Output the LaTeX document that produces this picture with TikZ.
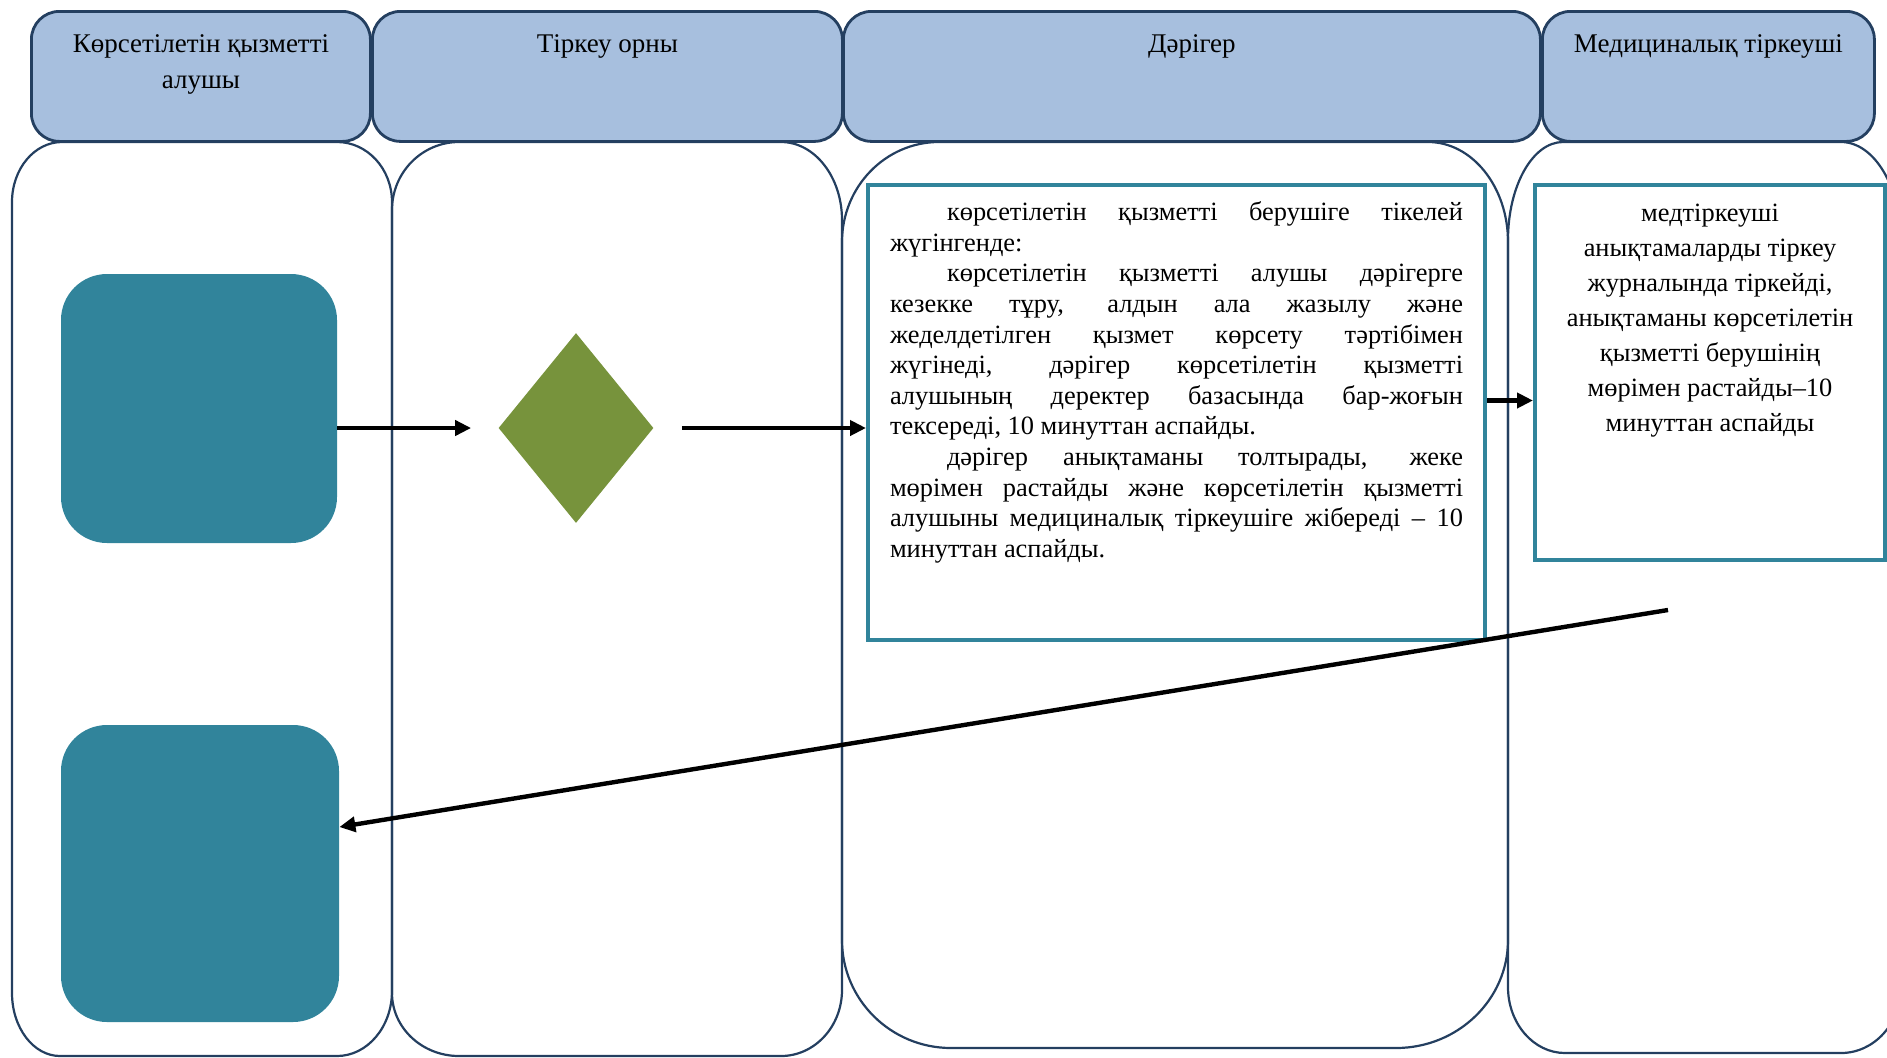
\documentclass[tikz,border=0pt]{standalone}
\usepackage{fontspec}
\setmainfont{Liberation Serif}
\usetikzlibrary{arrows.meta,shapes.geometric}
\definecolor{hdrfill}{HTML}{A7BFDE}
\definecolor{navyc}{HTML}{243F60}
\definecolor{tealc}{HTML}{31849B}
\definecolor{olivec}{HTML}{77933C}
\newcommand\hdrbox[2]{\parbox[c][65pt][t]{#1}{\vspace*{7.9pt}\centering\fontsize{13.5}{18}\selectfont\strut #2}}
\begin{document}
\begin{tikzpicture}[x=0.5pt,y=-0.5pt,
  lane/.style={draw=navyc,line width=1.1pt},
  hdr/.style={draw=navyc,line width=1.4pt,fill=hdrfill,rounded corners=14pt,inner sep=0pt,anchor=north west},
  proc/.style={fill=tealc,rounded corners=23pt,inner sep=0pt},
  dec/.style={diamond,fill=olivec,inner sep=0pt},
  tbox/.style={draw=tealc,line width=2pt,fill=white,inner xsep=11pt,inner ysep=0pt,anchor=north west},
  arr/.style={line width=2.2pt,-{Triangle[length=8pt,width=7.5pt]}}]
\useasboundingbox (0,0) rectangle (1887,1057);
\begin{scope}
\clip (0,0) rectangle (1887,1057);
% swimlanes
\draw[lane] (12,202) arc[start angle=180,end angle=270,x radius=50,y radius=60] -- (337,142)
  arc[start angle=270,end angle=360,x radius=55,y radius=60] -- (392,991)
  arc[start angle=0,end angle=90,x radius=55,y radius=65] -- (60,1056)
  arc[start angle=90,end angle=180,x radius=48,y radius=63] -- cycle;
\draw[lane] (392,210) arc[start angle=180,end angle=270,x radius=67,y radius=68] -- (781,142)
  arc[start angle=270,end angle=360,x radius=61,y radius=78] -- (842,990)
  arc[start angle=0,end angle=90,x radius=61,y radius=66] -- (459,1056)
  arc[start angle=90,end angle=180,x radius=67,y radius=63] -- cycle;
\draw[lane] (842,242) arc[start angle=180,end angle=270,x radius=97,y radius=100] -- (1428,142)
  arc[start angle=270,end angle=360,x radius=80,y radius=100] -- (1508,940)
  arc[start angle=0,end angle=90,x radius=112,y radius=108] -- (951,1048)
  arc[start angle=90,end angle=180,x radius=109,y radius=108] -- cycle;
\draw[lane] (1508,240) arc[start angle=180,end angle=270,x radius=55,y radius=98] -- (1841,142)
  arc[start angle=270,end angle=360,x radius=60,y radius=100] -- (1901,987)
  arc[start angle=0,end angle=90,x radius=60,y radius=66] -- (1565,1053)
  arc[start angle=90,end angle=180,x radius=57,y radius=66] -- cycle;
\end{scope}
% headers
\node[hdr] (h1) at (30,10) {\hdrbox{169.5pt}{Көрсетілетін қызметті\\алушы}};
\node[hdr] (h2) at (371,10) {\hdrbox{235pt}{Тіркеу орны}};
\node[hdr] (h3) at (842,10) {\hdrbox{348.5pt}{Дәрігер}};
\node[hdr] (h4) at (1541,10) {\hdrbox{166pt}{Медициналық тіркеуші}};
% shapes
\node[proc,minimum width=138pt,minimum height=134.5pt] (r1) at (199,408.5) {};
\node[proc,minimum width=139pt,minimum height=148.5pt] (r2) at (200,873.5) {};
\node[dec,minimum width=77.5pt,minimum height=95pt] (d) at (576,428) {};
\node[tbox] (b3) at (866,183) {\parbox[c][227.5pt][t]{286.5pt}{\vspace*{7.1pt}\fontsize{13.2}{15.3}\selectfont\setlength\parindent{28.5pt}\tolerance=10000 \hyphenpenalty=10000 \exhyphenpenalty=10000
\indent\strut көрсетілетін қызметті берушіге тікелей\linebreak жүгінгенде:\par
көрсетілетін қызметті алушы дәрігерге\linebreak кезекке тұру, алдын ала жазылу және\linebreak жеделдетілген қызмет көрсету тәртібімен\linebreak жүгінеді, дәрігер көрсетілетін қызметті\linebreak алушының деректер базасында бар-жоғын\linebreak тексереді, 10 минуттан аспайды.\par
дәрігер анықтаманы толтырады, жеке\linebreak мөрімен растайды және көрсетілетін қызметті\linebreak алушыны медициналық тіркеушіге жібереді – 10\linebreak минуттан аспайды.\par}};
\node[tbox,inner xsep=5pt] (b4) at (1533,183) {\parbox[c][187.5pt][t]{165pt}{\vspace*{5.75pt}\centering\fontsize{13.2}{17.5}\selectfont\strut медтіркеуші\\анықтамаларды тіркеу\\журналында тіркейді,\\анықтаманы көрсетілетін\\қызметті берушінің\\мөрімен растайды–10\\минуттан аспайды}};
% connectors
\draw[arr,shorten >=13.5pt] (r1.east |- d.west) -- (d.west);
\draw[arr,shorten <=14pt] (d.east) -- (d.east -| b3.west);
\coordinate (a3s) at ([yshift=6pt]b3.east);
\draw[arr] (a3s) -- (a3s -| b4.west);
\coordinate (s4) at (1668,610);
\draw[arr] (s4) -- ([yshift=23.25pt]r2.east);
\end{tikzpicture}
\end{document}
